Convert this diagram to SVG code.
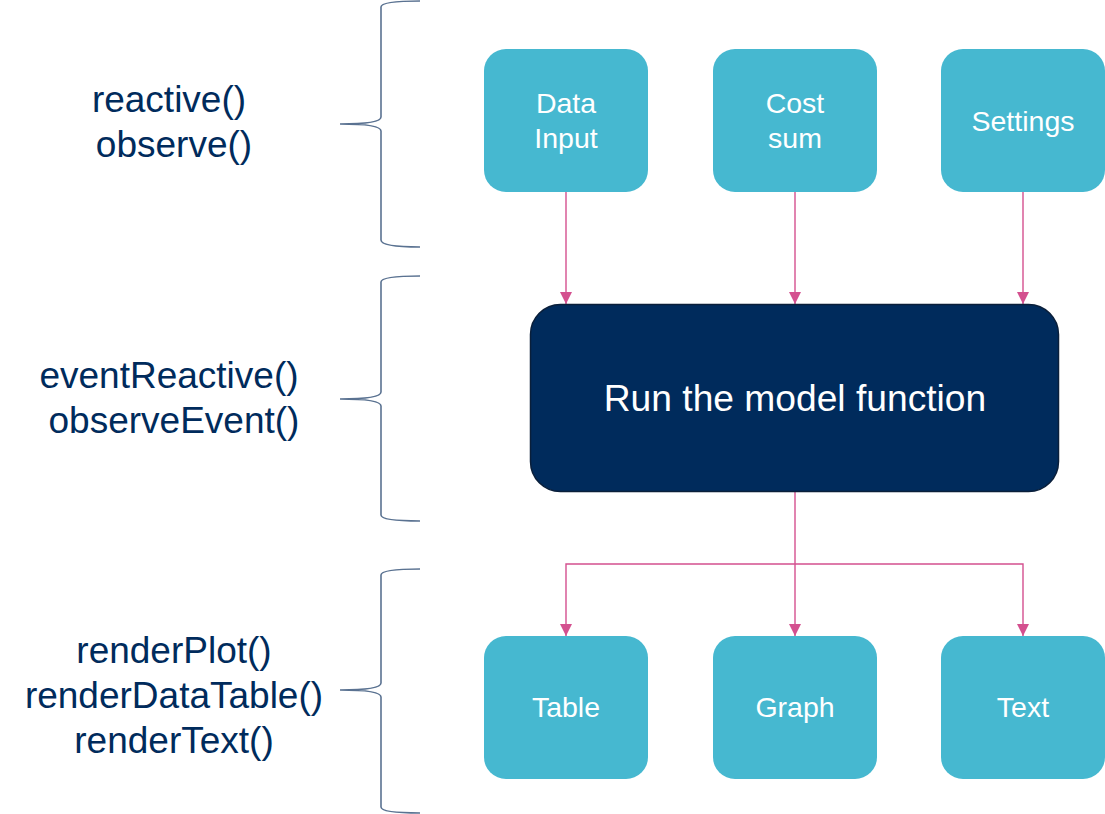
<svg xmlns="http://www.w3.org/2000/svg" width="1105" height="814" viewBox="0 0 1105 814">
<style>
.lbl{font-family:"Liberation Sans",Arial,sans-serif;font-size:37px;fill:#002B5C;text-anchor:middle}
.box{fill:#46B8D0}
.bt{font-family:"Liberation Sans",Arial,sans-serif;font-size:28.5px;fill:#FFFFFF;text-anchor:middle}
.brace{fill:none;stroke:#5A7291;stroke-width:1.6}
.conn{fill:none;stroke:#D4508F;stroke-width:1.4}
</style>
<defs>
<marker id="ah" viewBox="0 0 12 12" refX="12" refY="6" markerWidth="12" markerHeight="12" markerUnits="userSpaceOnUse" orient="auto-start-reverse">
<path d="M0,0 L12,6 L0,12 Z" fill="#D4508F"/>
</marker>
</defs>
<rect width="1105" height="814" fill="#FFFFFF"/>
<g id="braces">
<path class="brace" d="M420,1 C395,1 381,3 381,7 L381,117 C381,121 370,124 340,124 C370,124 381,127 381,131 L381,240 C381,245 395,247 420,247"/>
<path class="brace" d="M420,276 C395,276 381,278 381,282 L381,392 C381,396 370,399 340,399 C370,399 381,402 381,406 L381,515 C381,519 395,521 420,521"/>
<path class="brace" d="M420,569 C395,569 381,571 381,575 L381,683 C381,687 370,690 340,690 C370,690 381,693 381,697 L381,807 C381,811 395,813 420,813"/>
</g>
<g id="labels">
<text class="lbl" x="169" y="112">reactive()</text>
<text class="lbl" x="174" y="157">observe()</text>
<text class="lbl" x="169" y="388">eventReactive()</text>
<text class="lbl" x="174" y="433">observeEvent()</text>
<text class="lbl" x="174" y="663">renderPlot()</text>
<text class="lbl" x="174" y="708">renderDataTable()</text>
<text class="lbl" x="174" y="753">renderText()</text>
</g>
<g id="connectors">
<line class="conn" x1="566" y1="192" x2="566" y2="304" marker-end="url(#ah)"/>
<line class="conn" x1="795" y1="192" x2="795" y2="304" marker-end="url(#ah)"/>
<line class="conn" x1="1023" y1="192" x2="1023" y2="304" marker-end="url(#ah)"/>
<line class="conn" x1="795" y1="491" x2="795" y2="636" marker-end="url(#ah)"/>
<polyline class="conn" points="566,636 566,564 1023,564 1023,636" marker-start="url(#ah)" marker-end="url(#ah)"/>
</g>
<g id="node-data-input">
<rect class="box" x="484" y="49" width="164" height="143" rx="22"/>
<text class="bt" x="566" y="113">Data</text>
<text class="bt" x="566" y="148">Input</text>
</g>
<g id="node-cost-sum">
<rect class="box" x="713" y="49" width="164" height="143" rx="22"/>
<text class="bt" x="795" y="113">Cost</text>
<text class="bt" x="795" y="148">sum</text>
</g>
<g id="node-settings">
<rect class="box" x="941" y="49" width="164" height="143" rx="22"/>
<text class="bt" x="1023" y="131">Settings</text>
</g>
<g id="node-model">
<rect x="530.5" y="304.5" width="528" height="187" rx="30" fill="#002B5C" stroke="#0A1F3A" stroke-width="1.5"/>
<text x="795" y="411" font-family="'Liberation Sans',Arial,sans-serif" font-size="37.2" fill="#FFFFFF" text-anchor="middle">Run the model function</text>
</g>
<g id="node-table">
<rect class="box" x="484" y="636" width="164" height="143" rx="22"/>
<text class="bt" x="566" y="717">Table</text>
</g>
<g id="node-graph">
<rect class="box" x="713" y="636" width="164" height="143" rx="22"/>
<text class="bt" x="795" y="717">Graph</text>
</g>
<g id="node-text">
<rect class="box" x="941" y="636" width="164" height="143" rx="22"/>
<text class="bt" x="1023" y="717">Text</text>
</g>
</svg>
